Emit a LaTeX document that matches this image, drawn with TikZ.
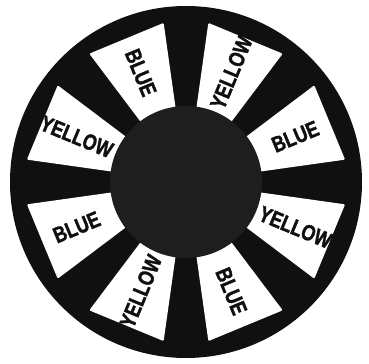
\documentclass[tikz,border=0pt]{standalone}
\usepackage{fontspec}
\newfontfamily\wheelfont{Liberation Sans}[FakeStretch=0.8,FakeBold=1.5]
\usepackage{tikz}
\definecolor{ink}{HTML}{101010}
\definecolor{hubgray}{HTML}{1E1E1E}
\tikzset{rim/.style={fill=ink},panel/.style={fill=white,rounded corners=1pt},hub/.style={fill=hubgray},word/.style={font=\wheelfont\bfseries\fontsize{19}{19}\selectfont,text=ink,inner sep=0pt}}

\begin{document}
\begin{tikzpicture}[scale=1.0]
\useasboundingbox (-5.58,-5.46) rectangle (5.49,5.46);
\fill[rim] (0,0) circle (5.28);
\foreach \ang/\rot/\word [count=\i] in {22.5/22.5/BLUE,67.5/67.5/YELLOW,112.5/-67.5/BLUE,157.5/-22.5/YELLOW,202.5/22.5/BLUE,247.5/67.5/YELLOW,292.5/-67.5/BLUE,337.5/-22.5/YELLOW}{
  \fill[panel] (\ang-14.5:2.2) -- (\ang-14.5:4.82) -- (\ang+14.5:4.82) -- (\ang+14.5:2.2) -- cycle;
  \node[word,rotate=\rot] (w\i) at (\ang:3.55) {\word};
}
\fill[hub] (0,0) circle (2.28);
\end{tikzpicture}
\end{document}
